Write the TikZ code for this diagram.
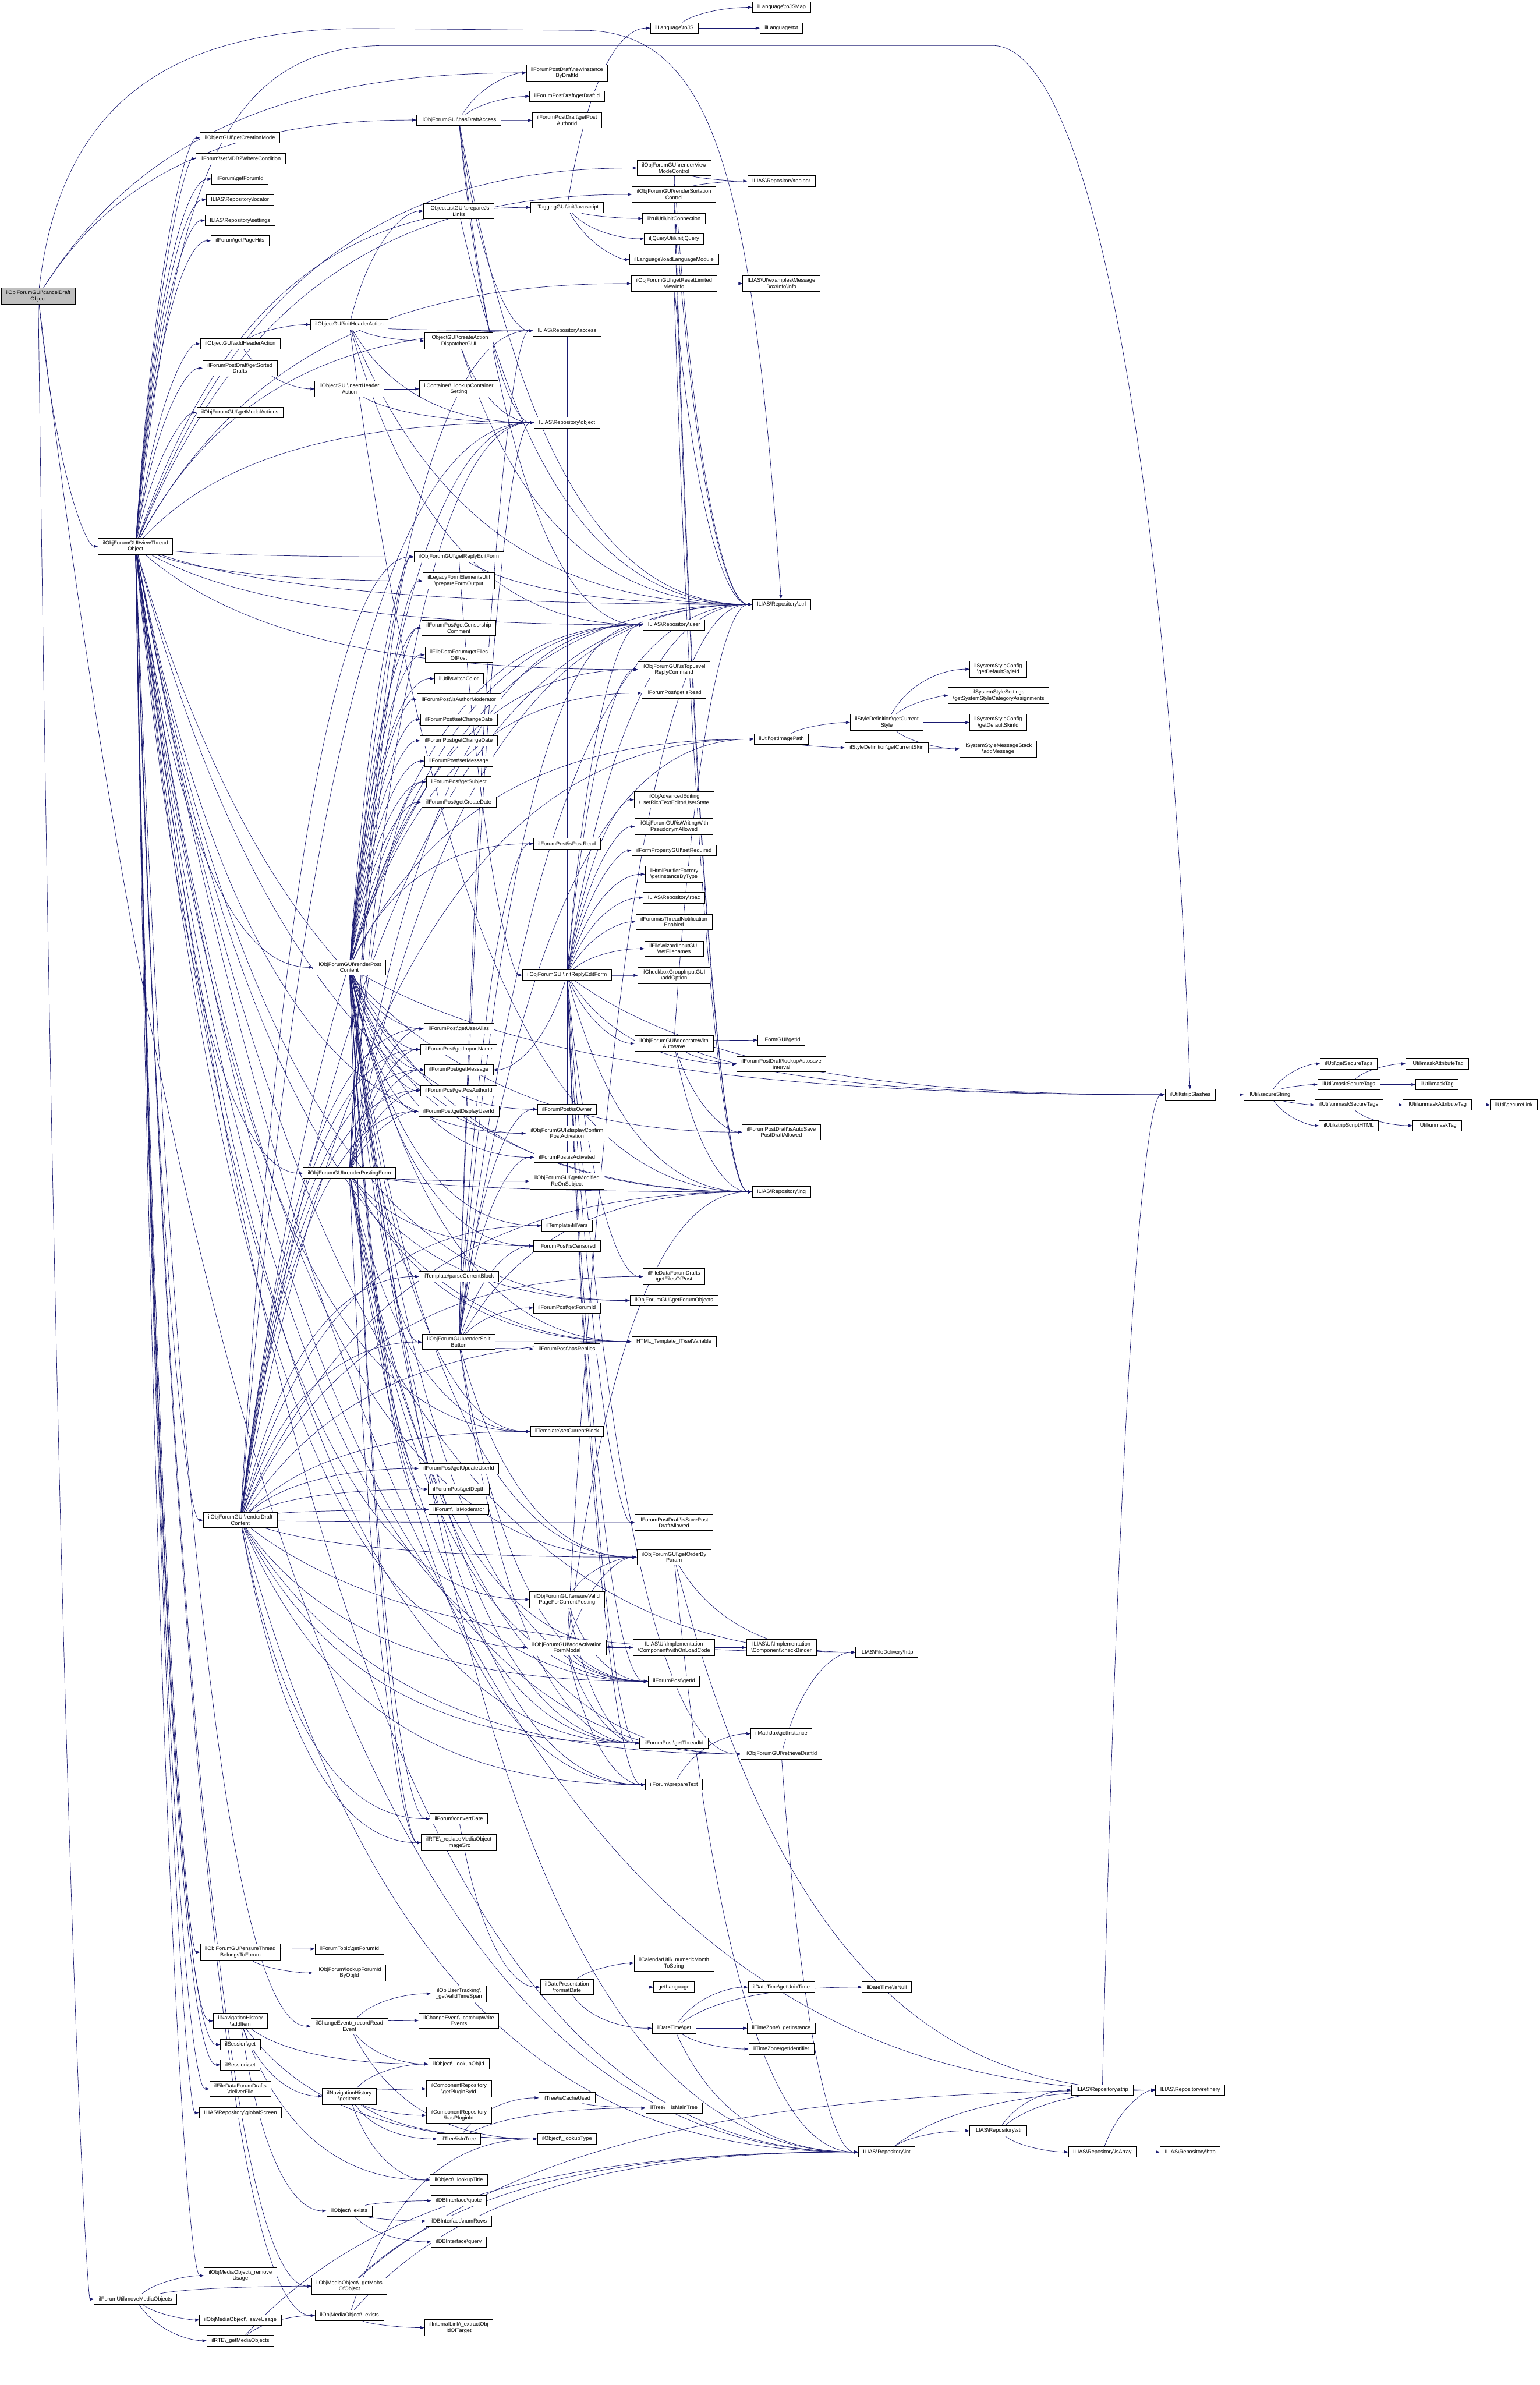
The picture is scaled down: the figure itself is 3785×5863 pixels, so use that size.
\documentclass[tikz,border=0pt]{standalone}
\usepackage{fontspec}
\setmainfont{Liberation Sans}
\usetikzlibrary{calc,arrows.meta}
\definecolor{callblue}{HTML}{191970}
\pgfdeclarelayer{edges}
\pgfsetlayers{edges,main}
\newcommand{\bs}{\textbackslash}
% call edge: leaves towards the callee, enters it from the left
\newcommand{\ed}[2]{\draw[arr] let \p1=(#1), \p2=(#2) in (#1) .. controls ({\x1+0.2*(\x2-\x1)},{\y1+0.75*(\y2-\y1)}) and ({0.5*(\x1+\x2)},{\y2}) .. (#2);}
\newcommand{\calls}[2]{\foreach \callee in {#2} {\ed{#1}{\callee}}}

\begin{document}
\begin{tikzpicture}[x=0.25pt, y=-0.25pt, font=\fontsize{3.3pt}{3.75pt}\selectfont,
  fn/.style={draw=black, line width=0.3pt, fill=white, align=center, inner xsep=2.9pt, inner ysep=1.6pt, minimum height=6.5pt},
  root/.style={fn, fill=black!25},
  arr/.style={-{Triangle[length=2.5pt,width=1.8pt]}, draw=callblue, line width=0.25pt}]
\useasboundingbox (0,0) rectangle (3785,5863);

% column 0/1
\node[root] (cancel) at (94,728) {ilObjForumGUI\bs cancelDraft\\Object};
\node[fn] (viewThread) at (333,1343) {ilObjForumGUI\bs viewThread\\Object};
\node[fn] (moveMobs) at (333,5652) {ilForumUtil\bs moveMediaObjects};

% column 2
\node[fn] (getCreationMode) at (590,339) {ilObjectGUI\bs getCreationMode};
\node[fn] (setWhere) at (592,390) {ilForum\bs setMDB2WhereCondition};
\node[fn] (forumGetForumId) at (590,440) {ilForum\bs getForumId};
\node[fn] (locator) at (590,491) {ILIAS\bs Repository\bs locator};
\node[fn] (settings) at (590,542) {ILIAS\bs Repository\bs settings};
\node[fn] (getPageHits) at (590,592) {ilForum\bs getPageHits};
\node[fn] (addHeaderAction) at (591,845) {ilObjectGUI\bs addHeaderAction};
\node[fn] (getSortedDrafts) at (590,905) {ilForumPostDraft\bs getSorted\\Drafts};
\node[fn] (getModalActions) at (590,1014) {ilObjForumGUI\bs getModalActions};
\node[fn] (renderDraftContent) at (591,3737) {ilObjForumGUI\bs renderDraft\\Content};
\node[fn] (ensureThread) at (591,4799) {ilObjForumGUI\bs ensureThread\\BelongsToForum};
\node[fn] (addItem) at (591,4968) {ilNavigationHistory\\\bs addItem};
\node[fn] (sessionGet) at (591,5026) {ilSession\bs get};
\node[fn] (sessionSet) at (591,5076) {ilSession\bs set};
\node[fn] (deliverFile) at (591,5135) {ilFileDataForumDrafts\\\bs deliverFile};
\node[fn] (globalScreen) at (591,5194) {ILIAS\bs Repository\bs globalScreen};
\node[fn] (removeUsage) at (591,5594) {ilObjMediaObject\bs\_remove\\Usage};
\node[fn] (saveUsage) at (591,5703) {ilObjMediaObject\bs\_saveUsage};
\node[fn] (getMediaObjects) at (591,5754) {ilRTE\bs\_getMediaObjects};

% column 3
\node[fn] (initHeaderAction) at (859,798) {ilObjectGUI\bs initHeaderAction};
\node[fn] (insertHeaderAction) at (859,956) {ilObjectGUI\bs insertHeader\\Action};
\node[fn] (renderPostContent) at (859,2378) {ilObjForumGUI\bs renderPost\\Content};
\node[fn] (renderPostingForm) at (859,2884) {ilObjForumGUI\bs renderPostingForm};
\node[fn] (topicGetForumId) at (859,4791) {ilForumTopic\bs getForumId};
\node[fn] (lookupForumId) at (859,4850) {ilObjForum\bs lookupForumId\\ByObjId};
\node[fn] (recordRead) at (859,4981) {ilChangeEvent\bs\_recordRead\\Event};
\node[fn] (getItems) at (859,5153) {ilNavigationHistory\\\bs getItems};
\node[fn] (objExists) at (859,5435) {ilObject\bs\_exists};
\node[fn] (getMobs) at (859,5620) {ilObjMediaObject\bs\_getMobs\\OfObject};
\node[fn] (mobExists) at (859,5692) {ilObjMediaObject\bs\_exists};

% column 4
\node[fn] (hasDraftAccess) at (1128,295) {ilObjForumGUI\bs hasDraftAccess};
\node[fn] (prepareJsLinks) at (1128,519) {ilObjectListGUI\bs prepareJs\\Links};
\node[fn] (createDispatcher) at (1128,838) {ilObjectGUI\bs createAction\\DispatcherGUI};
\node[fn] (lookupContainerSetting) at (1128,956) {ilContainer\bs\_lookupContainer\\Setting};
\node[fn] (getReplyEditForm) at (1128,1369) {ilObjForumGUI\bs getReplyEditForm};
\node[fn] (prepareFormOutput) at (1128,1428) {ilLegacyFormElementsUtil\\\bs prepareFormOutput};
\node[fn] (censorship) at (1128,1544) {ilForumPost\bs getCensorship\\Comment};
\node[fn] (filesOfPost) at (1128,1610) {ilFileDataForum\bs getFiles\\OfPost};
\node[fn] (switchColor) at (1128,1668) {ilUtil\bs switchColor};
\node[fn] (isAuthorModerator) at (1128,1719) {ilForumPost\bs isAuthorModerator};
\node[fn] (setChangeDate) at (1128,1769) {ilForumPost\bs setChangeDate};
\node[fn] (getChangeDate) at (1128,1821) {ilForumPost\bs getChangeDate};
\node[fn] (setMessage) at (1128,1871) {ilForumPost\bs setMessage};
\node[fn] (getSubject) at (1128,1922) {ilForumPost\bs getSubject};
\node[fn] (getCreateDate) at (1128,1972) {ilForumPost\bs getCreateDate};
\node[fn] (getUserAlias) at (1128,2529) {ilForumPost\bs getUserAlias};
\node[fn] (getImportName) at (1128,2580) {ilForumPost\bs getImportName};
\node[fn] (getMessage) at (1128,2630) {ilForumPost\bs getMessage};
\node[fn] (getPosAuthorId) at (1128,2681) {ilForumPost\bs getPosAuthorId};
\node[fn] (getDisplayUserId) at (1128,2732) {ilForumPost\bs getDisplayUserId};
\node[fn] (parseCurrentBlock) at (1128,3138) {ilTemplate\bs parseCurrentBlock};
\node[fn] (renderSplitButton) at (1128,3299) {ilObjForumGUI\bs renderSplit\\Button};
\node[fn] (getUpdateUserId) at (1128,3610) {ilForumPost\bs getUpdateUserId};
\node[fn] (getDepth) at (1128,3661) {ilForumPost\bs getDepth};
\node[fn] (isModerator) at (1128,3711) {ilForum\bs\_isModerator};
\node[fn] (convertDate) at (1128,4471) {ilForum\bs convertDate};
\node[fn] (replaceMobSrc) at (1128,4530) {ilRTE\bs\_replaceMediaObject\\ImageSrc};
\node[fn] (validTimeSpan) at (1128,4901) {ilObjUserTracking\bs\\\_getValidTimeSpan};
\node[fn] (catchupWrite) at (1128,4967) {ilChangeEvent\bs\_catchupWrite\\Events};
\node[fn] (lookupObjId) at (1128,5074) {ilObject\bs\_lookupObjId};
\node[fn] (getPluginById) at (1128,5135) {ilComponentRepository\\\bs getPluginById};
\node[fn] (hasPluginId) at (1128,5200) {ilComponentRepository\\\bs hasPluginId};
\node[fn] (isInTree) at (1128,5258) {ilTree\bs isInTree};
\node[fn] (lookupTitle) at (1128,5359) {ilObject\bs\_lookupTitle};
\node[fn] (dbQuote) at (1128,5410) {ilDBInterface\bs quote};
\node[fn] (dbNumRows) at (1128,5460) {ilDBInterface\bs numRows};
\node[fn] (dbQuery) at (1128,5511) {ilDBInterface\bs query};
\node[fn] (extractObjId) at (1128,5722) {ilInternalLink\bs\_extractObj\\IdOfTarget};

% column 5
\node[fn] (newInstanceByDraftId) at (1394,179) {ilForumPostDraft\bs newInstance\\ByDraftId};
\node[fn] (getDraftId) at (1394,237) {ilForumPostDraft\bs getDraftId};
\node[fn] (getPostAuthorId) at (1394,296) {ilForumPostDraft\bs getPost\\AuthorId};
\node[fn] (initJavascript) at (1394,510) {ilTaggingGUI\bs initJavascript};
\node[fn] (access) at (1394,813) {ILIAS\bs Repository\bs access};
\node[fn] (object) at (1394,1039) {ILIAS\bs Repository\bs object};
\node[fn] (isPostRead) at (1394,2074) {ilForumPost\bs isPostRead};
\node[fn] (initReplyEditForm) at (1394,2397) {ilObjForumGUI\bs initReplyEditForm};
\node[fn] (isOwner) at (1394,2727) {ilForumPost\bs isOwner};
\node[fn] (confirmActivation) at (1394,2786) {ilObjForumGUI\bs displayConfirm\\PostActivation};
\node[fn] (isActivated) at (1394,2845) {ilForumPost\bs isActivated};
\node[fn] (modifiedReOnSubject) at (1394,2904) {ilObjForumGUI\bs getModified\\ReOnSubject};
\node[fn] (fillVars) at (1394,3013) {ilTemplate\bs fillVars};
\node[fn] (isCensored) at (1394,3063) {ilForumPost\bs isCensored};
\node[fn] (postGetForumId) at (1394,3215) {ilForumPost\bs getForumId};
\node[fn] (hasReplies) at (1394,3316) {ilForumPost\bs hasReplies};
\node[fn] (setCurrentBlock) at (1394,3519) {ilTemplate\bs setCurrentBlock};
\node[fn] (ensureValidPage) at (1394,3932) {ilObjForumGUI\bs ensureValid\\PageForCurrentPosting};
\node[fn] (addActivationModal) at (1394,4050) {ilObjForumGUI\bs addActivation\\FormModal};
\node[fn] (formatDate) at (1394,4885) {ilDatePresentation\\\bs formatDate};
\node[fn] (isCacheUsed) at (1394,5157) {ilTree\bs isCacheUsed};
\node[fn] (lookupType) at (1394,5258) {ilObject\bs\_lookupType};

% column 6
\node[fn] (toJS) at (1658,69) {ilLanguage\bs toJS};
\node[fn] (renderViewModeControl) at (1657,413) {ilObjForumGUI\bs renderView\\ModeControl};
\node[fn] (renderSortationControl) at (1657,478) {ilObjForumGUI\bs renderSortation\\Control};
\node[fn] (initConnection) at (1657,537) {ilYuiUtil\bs initConnection};
\node[fn] (initjQuery) at (1657,587) {iljQueryUtil\bs initjQuery};
\node[fn] (loadLanguageModule) at (1657,638) {ilLanguage\bs loadLanguageModule};
\node[fn] (getResetLimitedViewInfo) at (1657,697) {ilObjForumGUI\bs getResetLimited\\ViewInfo};
\node[fn] (user) at (1657,1536) {ILIAS\bs Repository\bs user};
\node[fn] (isTopLevelReply) at (1657,1646) {ilObjForumGUI\bs isTopLevel\\ReplyCommand};
\node[fn] (getIsRead) at (1657,1704) {ilForumPost\bs getIsRead};
\node[fn] (richTextState) at (1657,1966) {ilObjAdvancedEditing\\\bs\_setRichTextEditorUserState};
\node[fn] (pseudonymAllowed) at (1657,2032) {ilObjForumGUI\bs isWritingWith\\PseudonymAllowed};
\node[fn] (setRequired) at (1657,2091) {ilFormPropertyGUI\bs setRequired};
\node[fn] (purifier) at (1657,2149) {ilHtmlPurifierFactory\\\bs getInstanceByType};
\node[fn] (rbac) at (1657,2207) {ILIAS\bs Repository\bs rbac};
\node[fn] (threadNotification) at (1657,2266) {ilForum\bs isThreadNotification\\Enabled};
\node[fn] (setFilenames) at (1657,2332) {ilFileWizardInputGUI\\\bs setFilenames};
\node[fn] (addOption) at (1657,2398) {ilCheckboxGroupInputGUI\\\bs addOption};
\node[fn] (decorateAutosave) at (1657,2565) {ilObjForumGUI\bs decorateWith\\Autosave};
\node[fn] (draftFilesOfPost) at (1657,3138) {ilFileDataForumDrafts\\\bs getFilesOfPost};
\node[fn] (getForumObjects) at (1657,3197) {ilObjForumGUI\bs getForumObjects};
\node[fn] (setVariable) at (1657,3298) {HTML\_Template\_IT\bs setVariable};
\node[fn] (isSaveDraftAllowed) at (1657,3743) {ilForumPostDraft\bs isSavePost\\DraftAllowed};
\node[fn] (getOrderByParam) at (1657,3828) {ilObjForumGUI\bs getOrderBy\\Param};
\node[fn] (withOnLoadCode) at (1657,4050) {ILIAS\bs UI\bs Implementation\\\bs Component\bs withOnLoadCode};
\node[fn] (postGetId) at (1657,4133) {ilForumPost\bs getId};
\node[fn] (getThreadId) at (1657,4285) {ilForumPost\bs getThreadId};
\node[fn] (prepareText) at (1657,4387) {ilForum\bs prepareText};
\node[fn] (monthToString) at (1657,4826) {ilCalendarUtil\bs\_numericMonth\\ToString};
\node[fn] (getLanguage) at (1657,4885) {getLanguage};
\node[fn] (dtGet) at (1657,4986) {ilDateTime\bs get};
\node[fn] (isMainTree) at (1657,5182) {ilTree\bs\_\_isMainTree};

% column 7
\node[fn] (toJSMap) at (1921,18) {ilLanguage\bs toJSMap};
\node[fn] (txt) at (1921,69) {ilLanguage\bs txt};
\node[fn] (toolbar) at (1921,445) {ILIAS\bs Repository\bs toolbar};
\node[fn] (msgInfo) at (1921,697) {ILIAS\bs UI\bs examples\bs Message\\Box\bs Info\bs info};
\node[fn] (ctrl) at (1921,1486) {ILIAS\bs Repository\bs ctrl};
\node[fn] (getImagePath) at (1921,1817) {ilUtil\bs getImagePath};
\node[fn] (formGetId) at (1921,2557) {ilFormGUI\bs getId};
\node[fn] (autosaveInterval) at (1921,2616) {ilForumPostDraft\bs lookupAutosave\\Interval};
\node[fn] (isAutoSaveAllowed) at (1921,2783) {ilForumPostDraft\bs isAutoSave\\PostDraftAllowed};
\node[fn] (lng) at (1921,2930) {ILIAS\bs Repository\bs lng};
\node[fn] (checkBinder) at (1921,4050) {ILIAS\bs UI\bs Implementation\\\bs Component\bs checkBinder};
\node[fn] (mathJax) at (1921,4262) {ilMathJax\bs getInstance};
\node[fn] (retrieveDraftId) at (1921,4312) {ilObjForumGUI\bs retrieveDraftId};
\node[fn] (getUnixTime) at (1921,4885) {ilDateTime\bs getUnixTime};
\node[fn] (tzInstance) at (1921,4986) {ilTimeZone\bs\_getInstance};
\node[fn] (tzIdentifier) at (1921,5037) {ilTimeZone\bs getIdentifier};

% columns 8 and further right
\node[fn] (getCurrentStyle) at (2180,1776) {ilStyleDefinition\bs getCurrent\\Style};
\node[fn] (getCurrentSkin) at (2180,1838) {ilStyleDefinition\bs getCurrentSkin};
\node[fn] (deliveryHttp) at (2180,4062) {ILIAS\bs FileDelivery\bs http};
\node[fn] (isNull) at (2180,4885) {ilDateTime\bs isNull};
\node[fn] (repoInt) at (2180,5290) {ILIAS\bs Repository\bs int};
\node[fn] (getDefaultStyleId) at (2454,1645) {ilSystemStyleConfig\\\bs getDefaultStyleId};
\node[fn] (styleCatAssign) at (2455,1710) {ilSystemStyleSettings\\\bs getSystemStyleCategoryAssignments};
\node[fn] (getDefaultSkinId) at (2454,1776) {ilSystemStyleConfig\\\bs getDefaultSkinId};
\node[fn] (addMessage) at (2454,1841) {ilSystemStyleMessageStack\\\bs addMessage};
\node[fn] (repoStr) at (2454,5238) {ILIAS\bs Repository\bs str};
\node[fn] (repoStrip) at (2710,5138) {ILIAS\bs Repository\bs strip};
\node[fn] (isArray) at (2710,5290) {ILIAS\bs Repository\bs isArray};
\node[fn] (stripSlashes) at (2926,2691) {ilUtil\bs stripSlashes};
\node[fn] (refinery) at (2926,5138) {ILIAS\bs Repository\bs refinery};
\node[fn] (repoHttp) at (2926,5290) {ILIAS\bs Repository\bs http};
\node[fn] (secureString) at (3121,2691) {ilUtil\bs secureString};
\node[fn] (getSecureTags) at (3316,2615) {ilUtil\bs getSecureTags};
\node[fn] (maskSecureTags) at (3316,2666) {ilUtil\bs maskSecureTags};
\node[fn] (unmaskSecureTags) at (3316,2716) {ilUtil\bs unmaskSecureTags};
\node[fn] (stripScriptHTML) at (3316,2767) {ilUtil\bs stripScriptHTML};
\node[fn] (maskAttributeTag) at (3533,2615) {ilUtil\bs maskAttributeTag};
\node[fn] (maskTag) at (3533,2666) {ilUtil\bs maskTag};
\node[fn] (unmaskAttributeTag) at (3533,2716) {ilUtil\bs unmaskAttributeTag};
\node[fn] (unmaskTag) at (3533,2767) {ilUtil\bs unmaskTag};
\node[fn] (secureLink) at (3722,2716) {ilUtil\bs secureLink};

\begin{pgfonlayer}{edges}
% the two long calls that run over the top of the graph
\draw[arr] (cancel) .. controls (150,250) and (420,70) .. (900,70) -- (1450,75) .. controls (1760,90) and (1850,450) .. (ctrl);
\draw[arr] (viewThread) .. controls (430,500) and (520,112) .. (950,112) -- (2440,112) .. controls (2700,112) and (2880,1300) .. (stripSlashes);
\calls{cancel}{viewThread,hasDraftAccess,newInstanceByDraftId,moveMobs,repoInt}
\calls{viewThread}{getCreationMode,setWhere,forumGetForumId,locator,settings,getPageHits,addHeaderAction,getSortedDrafts,getModalActions,renderViewModeControl,renderSortationControl,initJavascript,getResetLimitedViewInfo,access,object,ctrl,user,lng,getReplyEditForm,prepareFormOutput,renderPostContent,renderPostingForm,renderDraftContent,isTopLevelReply,confirmActivation,getForumObjects,setVariable,setCurrentBlock,getOrderByParam,ensureValidPage,addActivationModal,postGetId,getThreadId,retrieveDraftId,deliveryHttp,ensureThread,addItem,recordRead,sessionGet,sessionSet,deliverFile,globalScreen,removeUsage,repoInt,refinery,isAutoSaveAllowed,mobExists,getMobs}
\calls{hasDraftAccess}{newInstanceByDraftId,getDraftId,getPostAuthorId,user,access,object,ctrl}
\calls{addHeaderAction}{initHeaderAction,insertHeaderAction}
\calls{initHeaderAction}{prepareJsLinks,createDispatcher,access,object,ctrl,user,lng}
\calls{insertHeaderAction}{lookupContainerSetting,object}
\calls{createDispatcher}{ctrl,object}
\calls{prepareJsLinks}{ctrl}
\calls{initJavascript}{toJS,initConnection,initjQuery,loadLanguageModule}
\calls{toJS}{toJSMap,txt}
\calls{renderViewModeControl}{toolbar,ctrl,lng}
\calls{renderSortationControl}{toolbar,ctrl,lng}
\calls{getResetLimitedViewInfo}{msgInfo,ctrl,lng}
\calls{getReplyEditForm}{initReplyEditForm,ctrl}
\calls{initReplyEditForm}{isTopLevelReply,user,ctrl,lng,richTextState,pseudonymAllowed,setRequired,purifier,rbac,threadNotification,setFilenames,addOption,decorateAutosave,access,object,draftFilesOfPost,isSaveDraftAllowed,postGetId,getThreadId,prepareText,getMessage,retrieveDraftId,modifiedReOnSubject,autosaveInterval,stripSlashes}
\calls{decorateAutosave}{formGetId,autosaveInterval,isAutoSaveAllowed,ctrl,lng,stripSlashes,getThreadId,postGetId}
\calls{getImagePath}{getCurrentStyle,getCurrentSkin}
\calls{getCurrentStyle}{getDefaultStyleId,styleCatAssign,getDefaultSkinId,addMessage}
\calls{getCurrentSkin}{addMessage}
\calls{stripSlashes}{secureString}
\calls{secureString}{getSecureTags,maskSecureTags,unmaskSecureTags,stripScriptHTML}
\calls{maskSecureTags}{maskAttributeTag,maskTag}
\calls{unmaskSecureTags}{unmaskAttributeTag,unmaskTag}
\calls{unmaskAttributeTag}{secureLink}
\calls{renderPostContent}{censorship,filesOfPost,switchColor,isAuthorModerator,setChangeDate,getChangeDate,setMessage,getSubject,getCreateDate,getUserAlias,getImportName,getMessage,getPosAuthorId,getDisplayUserId,isPostRead,getIsRead,user,ctrl,lng,access,object,isOwner,confirmActivation,isActivated,fillVars,isCensored,setVariable,setCurrentBlock,parseCurrentBlock,renderSplitButton,getUpdateUserId,getDepth,isModerator,getOrderByParam,postGetId,getThreadId,prepareText,convertDate,replaceMobSrc,getImagePath,stripSlashes,isTopLevelReply,getReplyEditForm,repoInt}
\calls{renderPostingForm}{getUserAlias,getImportName,getMessage,getPosAuthorId,getDisplayUserId,user,ctrl,lng,object,getReplyEditForm,prepareFormOutput,modifiedReOnSubject,setVariable,setCurrentBlock,isCensored,postGetId,getThreadId,prepareText,retrieveDraftId,getForumObjects,replaceMobSrc,withOnLoadCode,getSubject,censorship}
\calls{renderSplitButton}{isPostRead,postGetForumId,hasReplies,isOwner,isActivated,isCensored,user,ctrl,lng,access,object,getOrderByParam,postGetId,getThreadId,getImagePath,setVariable}
\calls{renderDraftContent}{parseCurrentBlock,renderSplitButton,getUpdateUserId,getDepth,isModerator,setCurrentBlock,setVariable,fillVars,draftFilesOfPost,isSaveDraftAllowed,getOrderByParam,postGetId,getThreadId,prepareText,retrieveDraftId,convertDate,replaceMobSrc,user,ctrl,lng,getReplyEditForm,getImagePath,repoInt,getUserAlias,getImportName,getMessage,getPosAuthorId,getDisplayUserId,deliveryHttp,object}
\calls{getOrderByParam}{deliveryHttp,refinery,repoInt}
\calls{ensureValidPage}{getOrderByParam,postGetId,getThreadId}
\calls{addActivationModal}{withOnLoadCode,postGetId,getThreadId,prepareText,lng,ctrl,getOrderByParam}
\calls{withOnLoadCode}{checkBinder}
\calls{prepareText}{mathJax}
\calls{retrieveDraftId}{deliveryHttp,repoInt}
\calls{convertDate}{formatDate}
\calls{ensureThread}{topicGetForumId,lookupForumId}
\calls{addItem}{getItems,lookupObjId,lookupTitle,objExists,lookupType}
\calls{getItems}{lookupObjId,getPluginById,hasPluginId,isInTree,lookupTitle,lookupType}
\calls{recordRead}{validTimeSpan,catchupWrite,lookupObjId,lookupType}
\calls{objExists}{dbQuote,dbNumRows,dbQuery}
\calls{isInTree}{isCacheUsed,isMainTree}
\calls{isCacheUsed}{isMainTree}
\calls{formatDate}{monthToString,getLanguage,dtGet,isNull}
\calls{dtGet}{getUnixTime,isNull,tzInstance,tzIdentifier,repoInt}
\calls{getUnixTime}{isNull}
\calls{moveMobs}{removeUsage,getMobs,saveUsage,getMediaObjects}
\calls{getMediaObjects}{mobExists,repoInt}
\calls{mobExists}{extractObjId,lookupType,repoInt}
\calls{getMobs}{repoInt,refinery}
\calls{repoInt}{repoStr,refinery,isArray}
\calls{repoStr}{repoStrip,refinery,isArray}
\calls{repoStrip}{stripSlashes,refinery}
\calls{isArray}{repoHttp,refinery}
\end{pgfonlayer}
\end{tikzpicture}
\end{document}
